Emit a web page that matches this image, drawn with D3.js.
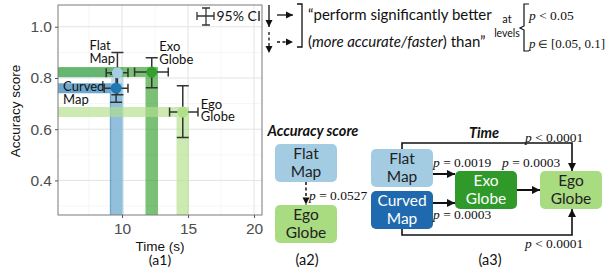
<!DOCTYPE html>
<html><head><meta charset="utf-8">
<script src="https://cdn.jsdelivr.net/npm/d3@7"></script>
<style>body{margin:0;background:#fff} svg{display:block}</style>
</head><body><svg id="c" width="609" height="271"></svg>
<script>
// ---- data ----
const groups = ["Flat Map","Curved Map","Exo Globe","Ego Globe"];
const labelLines = [["Flat","Map"],["Curved","Map"],["Exo","Globe"],["Ego","Globe"]];
const timeMean = [9.65, 9.55, 12.25, 14.6];
const timeLo   = [8.8, 8.65, 10.95, 13.6];
const timeHi   = [10.45, 10.45, 13.5, 15.75];
const accMean  = [0.82, 0.76, 0.823, 0.667];
const accLo    = [0.735, 0.705, 0.762, 0.568];
const accHi    = [0.90, 0.815, 0.879, 0.77];
const xTicks = [10, 15, 20];
const yTicks = [0.4, 0.6, 0.8, 1.0];
const xMinor = [7.5, 12.5, 17.5];
const yMinor = [0.3, 0.5, 0.7, 0.9];
const accPairs = [{from:"Flat Map", to:"Ego Globe", p:"0.0527"}];
const timePairs = [
  {from:"Flat Map", to:"Exo Globe", p:"= 0.0019"},
  {from:"Curved Map", to:"Exo Globe", p:"= 0.0003"},
  {from:"Exo Globe", to:"Ego Globe", p:"= 0.0003"},
  {from:"Flat Map", to:"Ego Globe", p:"< 0.0001"},
  {from:"Curved Map", to:"Ego Globe", p:"< 0.0001"}
];

// ---- styles ----
const colors = ["#a6cee3","#1f78b4","#33a02c","#b2df8a"];
const bandOrder = [1,0,2,3];
const boxFill = {"Flat Map":"#a3cce3","Curved Map":"#1f6aae","Exo Globe":"#2f9a2a","Ego Globe":"#a9db80"};
const boxText = {"Flat Map":"#222","Curved Map":"#fff","Exo Globe":"#fff","Ego Globe":"#222"};
const labelOff = [[-28,-27,-14],[-53,-2,11],[7.5,-26,-13],[18,-8,4.5]];
const sansA = "Liberation Sans, Arial, sans-serif";
const sansC = "Lato, 'Open Sans', sans-serif";
const serif = "Liberation Serif, 'Times New Roman', serif";

const svg = d3.select("#c");
const L=58, R=262, T=5, B=215;
const x = d3.scaleLinear().domain([5.15, 20.6]).range([L, R]);
const y = d3.scaleLinear().domain([0.265, 1.085]).range([B, T]);

// grid
const g = svg.append("g");
g.selectAll(".mx").data(xMinor).join("line").attr("x1",d=>x(d)).attr("x2",d=>x(d)).attr("y1",T).attr("y2",B).attr("stroke","#f2f2f2").attr("stroke-width",0.7);
g.selectAll(".my").data(yMinor).join("line").attr("y1",d=>y(d)).attr("y2",d=>y(d)).attr("x1",L).attr("x2",R).attr("stroke","#f2f2f2").attr("stroke-width",0.7);
g.selectAll(".Mx").data(xTicks).join("line").attr("x1",d=>x(d)).attr("x2",d=>x(d)).attr("y1",T).attr("y2",B).attr("stroke","#e3e3e3").attr("stroke-width",1);
g.selectAll(".My").data(yTicks).join("line").attr("y1",d=>y(d)).attr("y2",d=>y(d)).attr("x1",L).attr("x2",R).attr("stroke","#e3e3e3").attr("stroke-width",1);

// bands (L shapes)
const bw = 12.5, bh = 10;
bandOrder.forEach(i=>{
  const cx = x(timeMean[i]), cy = y(accMean[i]);
  const p = `M${L},${cy-bh/2}H${cx+bw/2}V${B}H${cx-bw/2}V${cy+bh/2}H${L}Z`;
  svg.append("path").attr("d",p).attr("fill",colors[i]).attr("fill-opacity",0.65);
});

// error bars
const eb = svg.append("g").attr("stroke","#333").attr("stroke-width",1.5).attr("fill","none");
groups.forEach((grp,i)=>{
  const cx = x(timeMean[i]), cy = y(accMean[i]);
  const y1 = y(accLo[i]), y2 = y(accHi[i]);
  const x1 = x(timeLo[i]), x2 = x(timeHi[i]);
  eb.append("path").attr("d",`M${cx},${y1}V${y2}M${cx-6},${y1}H${cx+6}M${cx-6},${y2}H${cx+6}`);
  eb.append("path").attr("d",`M${x1},${cy}H${x2}M${x1},${cy-4.5}V${cy+4.5}M${x2},${cy-4.5}V${cy+4.5}`);
});
// points
groups.forEach((grp,i)=>{
  svg.append("circle").attr("cx",x(timeMean[i])).attr("cy",y(accMean[i])).attr("r",5.5).attr("fill",colors[i]);
});
// labels
groups.forEach((grp,i)=>{
  const cx = x(timeMean[i]), cy = y(accMean[i]);
  labelLines[i].forEach((t,j)=>{
    svg.append("text").attr("x",cx+labelOff[i][0]).attr("y",cy+labelOff[i][j+1]).attr("dy","0.35em")
      .attr("font-family",sansC).attr("font-size",13).attr("fill","#111").text(t);
  });
});

// border
svg.append("rect").attr("x",L).attr("y",T).attr("width",R-L).attr("height",B-T).attr("fill","none").attr("stroke","#7a7a7a").attr("stroke-width",1);

// axes
const ax = svg.append("g").attr("transform",`translate(0,${B})`)
  .call(d3.axisBottom(x).tickValues(xTicks).tickSize(3).tickPadding(5).tickFormat(d3.format("d")));
const ay = svg.append("g").attr("transform",`translate(${L},0)`)
  .call(d3.axisLeft(y).tickValues(yTicks).tickSize(3).tickPadding(3).tickFormat(d3.format(".1f")));
[ax,ay].forEach(a=>{
  a.select(".domain").remove();
  a.selectAll(".tick line").attr("stroke","#555");
  a.selectAll(".tick text").attr("font-family",sansA).attr("font-size",15.5).attr("fill","#4d4d4d");
});
svg.append("text").attr("transform","translate(15,111) rotate(-90)").attr("text-anchor","middle").attr("dy","0.35em")
  .attr("font-family",sansA).attr("font-size",13.5).attr("fill","#111").text("Accuracy score");
svg.append("text").attr("x",160).attr("y",246).attr("dy","0.35em").attr("text-anchor","middle")
  .attr("font-family",sansA).attr("font-size",13.5).attr("fill","#111").text("Time (s)");
svg.append("text").attr("x",160).attr("y",260).attr("dy","0.35em").attr("text-anchor","middle")
  .attr("font-family",sansC).attr("font-size",14).attr("fill","#111").text("(a1)");

// CI legend
const ci = svg.append("g").attr("stroke","#333").attr("stroke-width",1.3).attr("fill","none");
ci.append("path").attr("d","M197,16H214M197,12V20M214,12V20M206,8V25M202,8H210M202,25H210");
svg.append("text").attr("x",216.5).attr("y",16).attr("dy","0.35em").attr("font-family",sansC).attr("font-size",14).attr("fill","#111").text("95% CI");

// arrow helper
function head(sel, x2, y2, ang, size){
  const a = ang, s = size||7, w = s*0.5;
  const bx = x2 - s*Math.cos(a), by = y2 - s*Math.sin(a);
  const px = -Math.sin(a)*w, py = Math.cos(a)*w;
  sel.append("path").attr("d",`M${x2},${y2}L${bx+px},${by+py}L${bx-px},${by-py}Z`).attr("fill","#111").attr("stroke","none");
}
function arrow(pts, dashed, sw, hs){
  const ln = d3.line()(pts);
  svg.append("path").attr("d",ln).attr("fill","none").attr("stroke","#111").attr("stroke-width",sw||1.5)
    .attr("stroke-dasharray",dashed?"3,2.5":null);
  const n = pts.length, [xa,ya]=pts[n-2], [xb,yb]=pts[n-1];
  head(svg, xb, yb, Math.atan2(yb-ya, xb-xa), hs);
}

// arrow legend
arrow([[269,5],[269,27]], false, 1.3, 7);
arrow([[269,32],[269,53]], true, 1.3, 7);
arrow([[277,15],[293,15]], false, 1.3, 7);
arrow([[277,42],[293,42]], true, 1.3, 7);
svg.append("path").attr("d","M297,4H302V47H297").attr("fill","none").attr("stroke","#111").attr("stroke-width",1.3);
svg.append("text").attr("x",308).attr("y",15).attr("dy","0.35em").attr("font-family",sansC).attr("font-size",15).attr("fill","#111").text("\u201Cperform significantly better");
const l2 = svg.append("text").attr("x",308).attr("y",42).attr("dy","0.35em").attr("font-family",sansC).attr("font-size",15).attr("fill","#111");
l2.append("tspan").text("(");
l2.append("tspan").attr("font-style","italic").text("more accurate/faster");
l2.append("tspan").text(") than\u201D");
svg.append("text").attr("x",507).attr("y",19).attr("dy","0.35em").attr("text-anchor","middle").attr("font-family",sansC).attr("font-size",11).attr("fill","#111").text("at");
svg.append("text").attr("x",507).attr("y",33).attr("dy","0.35em").attr("text-anchor","middle").attr("font-family",sansC).attr("font-size",10.5).attr("fill","#111").text("levels");
svg.append("path").attr("d","M529,4H524V26L520,28L524,30V51H529").attr("fill","none").attr("stroke","#111").attr("stroke-width",1.2);
function ptext(xp, yp, rest, anchor, fs){
  const t = svg.append("text").attr("x",xp).attr("y",yp).attr("dy","0.35em").attr("font-family",serif).attr("font-size",fs||13.5).attr("fill","#111").attr("text-anchor",anchor||"start");
  t.append("tspan").attr("font-style","italic").text("p");
  t.append("tspan").text(" " + rest);
  return t;
}
ptext(529, 15, "< 0.05", "start", 13.5);
{
  const t = svg.append("text").attr("x",529).attr("y",43).attr("dy","0.35em").attr("font-family",serif).attr("font-size",13).attr("fill","#111");
  t.append("tspan").attr("font-style","italic").text("p");
  t.append("tspan").attr("font-size",11).text(" \u2208 ");
  t.append("tspan").text("[0.05, 0.1]");
}

// (a2)
svg.append("text").attr("x",313).attr("y",131).attr("dy","0.35em").attr("text-anchor","middle").attr("font-family",sansC)
  .attr("font-size",14.5).attr("font-weight","bold").attr("font-style","italic").attr("fill","#111").text("Accuracy score");
const a2box = {"Flat Map":[275,144],"Ego Globe":[275,205]};
const bwid = 62, bhei = 38;
function box(name, bx, by){
  svg.append("rect").attr("x",bx).attr("y",by).attr("width",bwid).attr("height",bhei).attr("rx",5).attr("fill",boxFill[name]);
  const lines = labelLines[groups.indexOf(name)];
  lines.forEach((t,j)=>{
    svg.append("text").attr("x",bx+bwid/2).attr("y",by+bhei/2+(j-0.5)*18).attr("dy","0.35em").attr("text-anchor","middle")
      .attr("font-family",sansC).attr("font-size",15.5).attr("fill",boxText[name]).text(t);
  });
}
Object.entries(a2box).forEach(([k,v])=>box(k,v[0],v[1]));
accPairs.forEach(pr=>{
  const a = a2box[pr.from], b = a2box[pr.to];
  const xc = a[0]+bwid/2;
  arrow([[xc,a[1]+bhei],[xc,b[1]-0.5]], true, 1.5, 7);
  ptext(xc+3, (a[1]+bhei+b[1])/2+2, "= " + pr.p);
});
svg.append("text").attr("x",307).attr("y",260).attr("dy","0.35em").attr("text-anchor","middle").attr("font-family",sansC).attr("font-size",14.5).attr("fill","#111").text("(a2)");

// (a3)
svg.append("text").attr("x",484).attr("y",133).attr("dy","0.35em").attr("text-anchor","middle").attr("font-family",sansC)
  .attr("font-size",14.5).attr("font-weight","bold").attr("font-style","italic").attr("fill","#111").text("Time");
const a3box = {"Flat Map":[371,149],"Curved Map":[371,191],"Exo Globe":[455,171],"Ego Globe":[540,171]};
Object.entries(a3box).forEach(([k,v])=>box(k,v[0],v[1]));
const P = a3box;
// straight arrows
arrow([[P["Flat Map"][0]+bwid,174],[P["Exo Globe"][0],174]], false, 2, 8);
arrow([[P["Curved Map"][0]+bwid,203],[P["Exo Globe"][0],203]], false, 2, 8);
arrow([[P["Exo Globe"][0]+bwid,190],[P["Ego Globe"][0],190]], false, 2, 8);
// elbow arrows
const ex = 572;
arrow([[402,P["Flat Map"][1]],[402,143],[ex,143],[ex,P["Ego Globe"][1]]], false, 1.6, 8);
arrow([[402,P["Curved Map"][1]+bhei],[402,235],[ex,235],[ex,P["Ego Globe"][1]+bhei]], false, 1.6, 8);
ptext(433, 162.5, timePairs[0].p);
ptext(433, 214, timePairs[1].p);
ptext(502, 162.5, timePairs[2].p);
ptext(525, 137, timePairs[3].p);
ptext(525, 243.5, timePairs[4].p);
svg.append("text").attr("x",490).attr("y",260).attr("dy","0.35em").attr("text-anchor","middle").attr("font-family",sansC).attr("font-size",14.5).attr("fill","#111").text("(a3)");
</script></body></html>
